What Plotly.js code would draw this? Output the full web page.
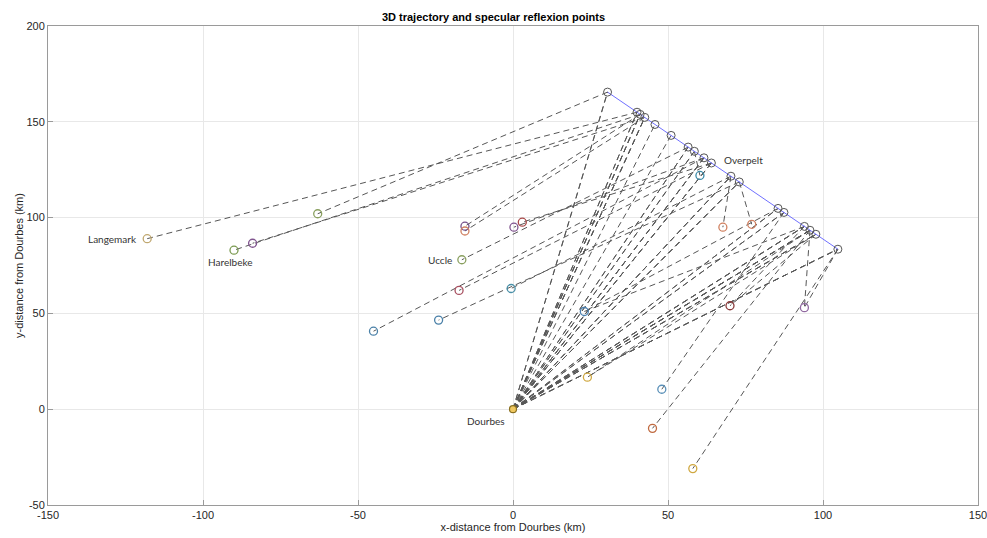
<!DOCTYPE html>
<html>
<head>
<meta charset="utf-8">
<script src="https://cdn.plot.ly/plotly-3.0.1.min.js"></script>
<style>html,body{margin:0;padding:0;background:#fff;}#chart{width:987px;height:538px;}</style>
</head>
<body>
<div id="chart"></div>
<script>
// Transmitter (Dourbes)
const txX = 0;
const txY = 0;

// Trajectory / specular reflexion points (km)
const trajX = [30.5, 40, 41, 42.5, 45.8, 51, 56.5, 58.5, 61.6, 64, 70.3, 73, 85.5, 87.4, 94, 95.8, 97.7, 104.8];
const trajY = [165.5, 155.0, 153.9, 152.3, 148.6, 142.9, 136.8, 134.6, 131.2, 128.5, 121.6, 118.6, 104.8, 102.7, 95.4, 93.4, 91.3, 83.5];

// Receivers (km)
const rxX = [-118, -90, -84, -63, -15.5, -15.5, -16.5, -17.4, -45, -24, 0.3, 3, -0.6, 23, 24, 48, 45, 58, 70, 94, 67.7, 77, 60.3];
const rxY = [89, 83, 86.6, 102, 95.5, 93, 78, 62, 40.7, 46.5, 95, 97.6, 63, 51, 16.7, 10.4, -10, -31, 54, 53, 95, 96.5, 122];
const rxColor = ['#c0a870', '#7a9a50', '#80558f', '#8aa060', '#75508a', '#d08060', '#8aa060', '#a85060', '#4a80a8', '#4a80a8', '#80558f', '#a84848', '#4a90a8', '#4a80b0', '#d0a840', '#5a90b8', '#c06a40', '#d0a840', '#8a3a3a', '#9068a0', '#d08060', '#d08060', '#3a8aa8'];

// Pairs: receiver index -> specular point index
const pairRx = [0, 1, 2, 3, 4, 5, 6, 7, 8, 9, 10, 11, 12, 13, 14, 15, 16, 17, 18, 19, 19, 20, 21, 22, 13, 14, 18];
const pairSp = [1, 2, 3, 0, 2, 3, 6, 9, 8, 11, 8, 9, 10, 12, 16, 13, 15, 17, 14, 15, 17, 10, 11, 7, 14, 15, 16];

// Site labels
const siteNames = ['Langemark', 'Harelbeke', 'Uccle', 'Dourbes', 'Overpelt'];
const siteX = [-118, -90, -16.5, 0, 60.3];
const siteY = [89, 83, 78, 0, 122];

// Axis ticks
const xTicks = [-150, -100, -50, 0, 50, 100, 150];
const yTicks = [-50, 0, 50, 100, 150, 200];

// Build dashed ray segments: transmitter -> specular point -> receiver
const rayX = [], rayY = [];
for (let k = 0; k < trajX.length; k++) {
  rayX.push(txX, trajX[k], null);
  rayY.push(txY, trajY[k], null);
}
for (let k = 0; k < pairRx.length; k++) {
  rayX.push(trajX[pairSp[k]], rxX[pairRx[k]], null);
  rayY.push(trajY[pairSp[k]], rxY[pairRx[k]], null);
}
for (let k = 0; k < pairSp.length; k++) {
  rayX.push(txX, trajX[pairSp[k]], null);
  rayY.push(txY, trajY[pairSp[k]], null);
}

const traces = [
  {x: rayX, y: rayY, mode: 'lines', line: {color: '#3a3a3a', width: 1, dash: '6px,4px'}, opacity: 0.85, hoverinfo: 'skip', showlegend: false},
  {x: trajX, y: trajY, mode: 'lines', line: {color: '#7070ff', width: 1}, showlegend: false},
  {x: trajX, y: trajY, mode: 'markers', marker: {symbol: 'circle-open', size: 8, color: '#555555', line: {width: 1}}, showlegend: false},
  {x: rxX, y: rxY, mode: 'markers', marker: {symbol: 'circle-open', size: 8, color: rxColor, line: {width: 1.3}}, showlegend: false},
  {x: [txX], y: [txY], mode: 'markers', marker: {symbol: 'circle', size: 7, color: '#f0c860', line: {width: 1.2, color: '#8a7020'}}, showlegend: false}
];

const labelShift = [[-8, 0, 'right', 'middle'], [-4, -12, 'center', 'middle'], [-8, 0, 'right', 'middle'], [-6, -12, 'right', 'middle'], [22, 15, 'left', 'middle']];
const annotations = siteNames.map((n, i) => ({
  x: siteX[i], y: siteY[i], text: n, showarrow: false,
  xanchor: labelShift[i][2], yanchor: labelShift[i][3],
  xshift: labelShift[i][0], yshift: labelShift[i][1],
  font: {family: 'Lato, "Open Sans", sans-serif', size: 10, color: '#333333'}
}));

const axisCommon = {
  showgrid: true, gridcolor: '#e8e8e8', gridwidth: 1,
  zeroline: false, showline: true, linecolor: '#9a9a9a', linewidth: 1, mirror: true,
  ticks: 'inside', ticklen: 5, tickcolor: '#9a9a9a', ticklabeloverflow: 'allow',
  tickfont: {family: '"Liberation Sans", Arial, sans-serif', size: 11, color: '#262626'}
};

const layout = {
  width: 987, height: 538,
  margin: {l: 48, r: 9, t: 26, b: 33},
  paper_bgcolor: '#ffffff', plot_bgcolor: '#ffffff',
  title: {text: '<b>3D trajectory and specular reflexion points</b>', x: 0.5, xanchor: 'center', y: 0.968, yanchor: 'middle',
    font: {family: '"Liberation Sans", Arial, sans-serif', size: 11, color: '#000000'}},
  xaxis: Object.assign({}, axisCommon, {range: [-150, 150], tickmode: 'array', tickvals: xTicks, ticktext: xTicks.map(String),
    title: {text: 'x-distance from Dourbes (km)', standoff: 2, font: {family: '"Liberation Sans", Arial, sans-serif', size: 11, color: '#262626'}}}),
  yaxis: Object.assign({}, axisCommon, {range: [-50, 200], tickmode: 'array', tickvals: yTicks, ticktext: yTicks.map(String),
    title: {text: 'y-distance from Dourbes (km)', standoff: 0, font: {family: '"Liberation Sans", Arial, sans-serif', size: 11, color: '#262626'}}}),
  annotations: annotations,
  showlegend: false
};

Plotly.newPlot('chart', traces, layout, {displayModeBar: false, staticPlot: true});
</script>
</body>
</html>
